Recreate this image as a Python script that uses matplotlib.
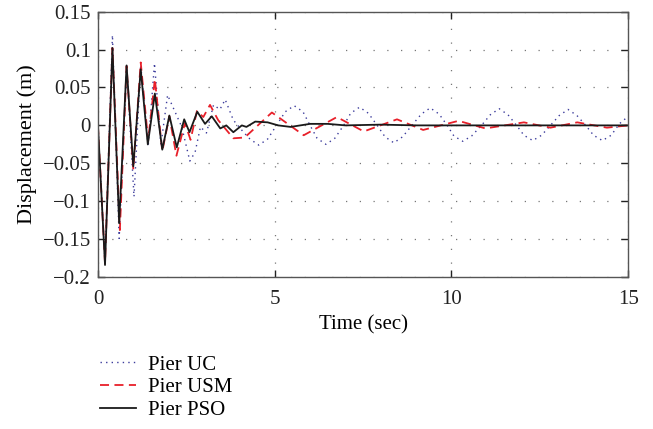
import numpy as np
import matplotlib
matplotlib.use("Agg")
import matplotlib.pyplot as plt

# ------------- dados ------------------------------------
# Pier PSO (linha preta)
t_pso = [0.0, 0.2, 0.41, 0.60, 0.81, 1.00, 1.21, 1.41, 1.61, 1.82, 2.02, 2.23,
         2.44, 2.59, 2.81, 3.03, 3.22, 3.46, 3.63, 3.83, 4.07, 4.2, 4.45, 4.8,
         5.1, 5.45, 6.0, 6.5, 7.0, 8.0, 9.0, 15.0]
d_pso = [0.0, -0.184, 0.102, -0.129, 0.079, -0.054, 0.074, -0.025, 0.042, -0.032,
         0.013, -0.029, 0.008, -0.009, 0.018, 0.002, 0.012, -0.004, 0.0, -0.009,
         0.0, -0.002, 0.005, 0.004, 0.0, -0.002, 0.002, 0.002, 0.0, 0.001, 0.0, 0.0]

# Pier USM (tracejada vermelha)
t_usm = [0.0, 0.2, 0.41, 0.62, 0.81, 1.00, 1.21, 1.42, 1.61, 1.82, 2.02, 2.22,
         2.46, 2.62, 2.80, 2.98, 3.17, 3.40, 3.83, 4.15, 4.92, 5.82, 6.76, 7.52,
         8.46, 9.2, 10.2, 10.96, 12.05, 12.8, 13.56, 14.4, 15.0]
d_usm = [0.0, -0.182, 0.102, -0.138, 0.078, -0.058, 0.083, -0.020, 0.061, -0.034,
         0.012, -0.040, 0.003, -0.019, 0.019, 0.011, 0.027, 0.007, -0.017, -0.016,
         0.017, -0.013, 0.011, -0.008, 0.008, -0.006, 0.006, -0.004, 0.004, -0.003,
         0.004, -0.003, 0.0]

# Pier UC (pontilhada azul)
t_uc = [0.0, 0.2, 0.41, 0.60, 0.81, 1.02, 1.21, 1.42, 1.60, 1.78, 1.97, 2.37,
        2.6, 2.75, 2.9, 3.07, 3.27, 3.45, 3.6, 3.83, 4.1, 4.3, 4.55, 4.8, 5.05,
        5.3, 5.55, 5.8, 6.0, 6.2, 6.45, 6.7, 6.95, 7.15, 7.4, 7.65, 7.9, 8.12,
        8.37, 8.62, 8.88, 9.15, 9.4, 9.65, 9.88, 10.07, 10.32, 10.57, 10.85,
        11.1, 11.35, 11.6, 11.86, 12.05, 12.3, 12.55, 12.8, 13.05, 13.3, 13.55,
        13.8, 14.02, 14.27, 14.52, 14.75, 15.0]
d_uc = [0.0, -0.18, 0.119, -0.149, 0.079, -0.094, 0.080, -0.028, 0.082, -0.026,
        0.040, -0.002, -0.047, -0.035, -0.002, -0.010, 0.027, 0.021, 0.034, 0.007,
        -0.008, -0.018, -0.026, -0.018, 0.0, 0.018, 0.026, 0.018, 0.0, -0.017,
        -0.025, -0.017, 0.0, 0.016, 0.024, 0.016, 0.0, -0.015, -0.023, -0.015,
        0.0, 0.015, 0.023, 0.015, 0.0, -0.014, -0.021, -0.014, 0.0, 0.014, 0.022,
        0.014, -0.001, -0.013, -0.020, -0.013, 0.0, 0.013, 0.021, 0.013, 0.0,
        -0.013, -0.020, -0.013, 0.002, 0.012]

yticks = [-0.2, -0.15, -0.1, -0.05, 0, 0.05, 0.1, 0.15]
ytick_labels = ["\u22120.2", "\u22120.15", "\u22120.1", "\u22120.05", "0", "0.05", "0.1", "0.15"]
xticks = [0, 5, 10, 15]

# ------------- plotar -------------------
plt.rcParams["font.family"] = ["Liberation Serif", "DejaVu Serif"]
plt.rcParams["font.size"] = 15

fig = plt.figure(figsize=(6.53, 4.29), dpi=100)
ax = fig.add_axes([0.150, 0.354, 0.812, 0.619])

ax.plot(t_uc, d_uc, linestyle=(0, (1, 3)), color="#3c3c9c", linewidth=1.0, label="Pier UC")
ax.plot(t_usm, d_usm, linestyle=(0, (5, 3)), color="#e8202a", linewidth=1.3, label="Pier USM")
ax.plot(t_pso, d_pso, color="#1a1a1a", linewidth=1.3, label="Pier PSO")

ax.set_xlim(0, 15)
ax.set_ylim(-0.2, 0.15)
ax.set_xticks(xticks)
ax.set_yticks(yticks)
ax.set_yticklabels(ytick_labels)
ax.set_xlabel("Time (sec)", labelpad=5)
ax.set_ylabel("Displacement (m)", fontsize=16, labelpad=4)

ax.grid(True, linestyle=(0, (1, 10)), color="#777777", linewidth=0.9)
ax.tick_params(direction="in", top=True, right=True, length=5, width=1, colors="#222222", pad=5)
ax.tick_params(axis="x", pad=9)
for s in ax.spines.values():
    s.set_color("#555555")
    s.set_linewidth(1.0)

fig.legend(loc="upper left", bbox_to_anchor=(0.141, 0.192), frameon=False,
           handlelength=1.7, handletextpad=0.6, labelspacing=0.16, borderaxespad=0)

fig.savefig("out.png", dpi=100)
